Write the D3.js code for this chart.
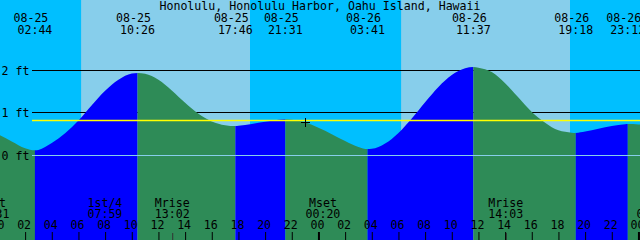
<!DOCTYPE html>
<html>
<head>
<meta charset="utf-8">
<script src="https://cdn.jsdelivr.net/npm/d3@7"></script>
<style>
  html, body { margin: 0; padding: 0; overflow: hidden; background: #00bfff; }
  svg { display: block; }
  text { font-family: 'DejaVu Sans Mono', monospace; font-size: 11.6px; fill: #000; }
</style>
</head>
<body>
<script>
const title = "Honolulu, Honolulu Harbor, Oahu Island, Hawaii";

// time window shown (48 h)
const xDomain = ["08-25 00:07", "08-27 00:07"];

// tide extremes
const tideTimes = ["08-25 02:44", "08-25 10:26", "08-25 17:46", "08-25 21:31",
                   "08-26 03:41", "08-26 11:37", "08-26 19:18", "08-26 23:12"];
const tideKinds = ["low", "high", "low", "high", "low", "high", "low", "high"];
const tideHeights = [0.12, 1.94, 0.69, 0.85, 0.15, 2.08, 0.53, 0.74];

// hourly water level, from 08-25 00:00
const hourlyStart = "08-25 00:00";
const hourlyHeights = [
  0.49, 0.33, 0.17, 0.13, 0.29, 0.52, 0.82, 1.18, 1.52, 1.78, 1.925, 1.92,
  1.78, 1.53, 1.24, 0.98, 0.80, 0.71, 0.695, 0.74, 0.79, 0.84, 0.84, 0.78,
  0.65, 0.50, 0.34, 0.20, 0.155, 0.28, 0.53, 0.87, 1.25, 1.61, 1.89, 2.05,
  2.06, 1.96, 1.70, 1.36, 1.02, 0.77, 0.59, 0.535, 0.56, 0.63, 0.69, 0.735,
  0.73, 0.69
];

// daylight
const sunrises = ["08-25 06:12", "08-26 06:12"];
const sunsets = ["08-25 18:52", "08-26 18:52"];

// moon events
const moonLabels = ["Mset", "1st/4", "Mrise", "Mset", "Mrise", "Mset"];
const moonTimes = ["08-24 23:31", "08-25 07:59", "08-25 13:02", "08-26 00:20", "08-26 14:03", "08-27 01:10"];

const levelTicks = [0, 1, 2];
const meanLevel = 0.82;
const markTime = "08-25 23:00";
const markHeight = 0.78;

const colors = {
    night: "#00bfff",
    day: "#87ceeb",
    rising: "#0000ff",
    falling: "#2e8b57",
    datum: "#87ceeb",
    mean: "#ffff00"
};

const width = 640;
const height = 240;

const parse = d3.utcParse("%m-%d %H:%M");
const fmtDate = d3.utcFormat("%m-%d");
const fmtTime = d3.utcFormat("%H:%M");

const x = d3.scaleUtc()
    .domain(xDomain.map(parse))
    .range([0, width]);

const y = d3.scaleLinear()
    .domain([0, 2])
    .range([155.4, 70.4]);

const rowY = v => Math.floor(y(v)) + 0.5;

const svg = d3.select("body")
    .append("svg")
    .attr("width", width)
    .attr("height", height);

// sky
svg.append("rect")
    .attr("width", width)
    .attr("height", height)
    .attr("fill", colors.night);

svg.selectAll("rect.day")
    .data(sunrises)
    .enter()
    .append("rect")
    .attr("class", "day")
    .attr("x", (d, i) => x(parse(d)))
    .attr("y", 0)
    .attr("width", (d, i) => x(parse(sunsets[i])) - x(parse(d)))
    .attr("height", height)
    .attr("fill", colors.day);

// level lines behind the water
const lineLeft = 32;
svg.selectAll("line.level")
    .data(levelTicks.filter(v => v > 0))
    .enter()
    .append("line")
    .attr("class", "level")
    .attr("x1", lineLeft)
    .attr("x2", width)
    .attr("y1", d => rowY(d))
    .attr("y2", d => rowY(d))
    .attr("stroke", "#000")
    .attr("stroke-width", 1);

// water
const hour0 = parse(hourlyStart);
let points = hourlyHeights.map((h, i) => ({ t: d3.utcHour.offset(hour0, i), h: h }));
tideTimes.forEach((d, i) => points.push({ t: parse(d), h: tideHeights[i] }));
points.sort((a, b) => a.t - b.t);

const area = d3.area()
    .x(d => x(d.t))
    .y0(height)
    .y1(d => y(d.h))
    .curve(d3.curveMonotoneX);

const bounds = [-20].concat(tideTimes.map(d => x(parse(d))), [width + 20]);
const kinds = tideKinds.map(k => k === "low" ? "falling" : "rising");
kinds.push(tideKinds[tideKinds.length - 1] === "high" ? "falling" : "rising");

const defs = svg.append("defs");
kinds.forEach((k, i) => {
    defs.append("clipPath")
        .attr("id", "clip-" + i)
        .append("rect")
        .attr("x", bounds[i])
        .attr("y", 0)
        .attr("width", bounds[i + 1] - bounds[i])
        .attr("height", height);
    svg.append("path")
        .attr("d", area(points))
        .attr("fill", colors[k])
        .attr("clip-path", `url(#clip-${i})`);
});

// datum and mean level over the water
svg.append("line")
    .attr("x1", lineLeft)
    .attr("x2", width)
    .attr("y1", rowY(0))
    .attr("y2", rowY(0))
    .attr("stroke", colors.datum);

svg.append("line")
    .attr("x1", lineLeft)
    .attr("x2", width)
    .attr("y1", rowY(meanLevel))
    .attr("y2", rowY(meanLevel))
    .attr("stroke", colors.mean)
    .attr("stroke-width", 1.3);

// current-time mark
const mx = Math.round(x(parse(markTime))) + 0.5;
const my = Math.round(y(markHeight)) + 0.5;
svg.append("path")
    .attr("d", `M${mx - 4.5},${my}H${mx + 4.5}M${mx},${my - 4.5}V${my + 4.5}`)
    .attr("stroke", "#000")
    .attr("fill", "none");

// level labels
svg.selectAll("text.level")
    .data(levelTicks)
    .enter()
    .append("text")
    .attr("class", "level")
    .attr("x", 1.5)
    .attr("y", d => rowY(d) + 4)
    .text(d => `${d} ft`);

// title
svg.append("text")
    .attr("x", width / 2)
    .attr("y", 10)
    .attr("text-anchor", "middle")
    .text(title);

// tide extreme labels
const tideLabel = svg.selectAll("g.tide")
    .data(tideTimes.map(parse))
    .enter()
    .append("g")
    .attr("class", "tide")
    .attr("transform", d => `translate(${x(d)},0)`);

tideLabel.append("text")
    .attr("x", -4)
    .attr("y", 22)
    .attr("text-anchor", "middle")
    .text(d => fmtDate(d));

tideLabel.append("text")
    .attr("x", 0)
    .attr("y", 33.5)
    .attr("text-anchor", "middle")
    .text(d => fmtTime(d));

// moon labels
const moonLabel = svg.selectAll("g.moon")
    .data(moonTimes.map((d, i) => ({ t: parse(d), name: moonLabels[i] })))
    .enter()
    .append("g")
    .attr("class", "moon")
    .attr("transform", d => `translate(${x(d.t)},0)`);

moonLabel.append("text")
    .attr("y", 206.5)
    .attr("text-anchor", "middle")
    .text(d => d.name);

moonLabel.append("text")
    .attr("y", 217.5)
    .attr("text-anchor", "middle")
    .text(d => fmtTime(d.t));

moonLabel.filter(d => d.name === "Mrise")
    .append("line")
    .attr("x1", 0.5)
    .attr("x2", 0.5)
    .attr("y1", 233)
    .attr("y2", height)
    .attr("stroke", "#333");

// hour axis
const hourTicks = d3.utcHour.range(parse("08-25 00:00"), parse("08-27 00:01"), 2);
const axis = svg.append("g")
    .attr("transform", `translate(0,${height})`)
    .call(d3.axisTop(x)
        .tickValues(hourTicks)
        .tickSize(8)
        .tickPadding(2.7)
        .tickFormat(d3.utcFormat("%H")));

axis.select(".domain").remove();
axis.attr("font-family", null).attr("font-size", null).attr("color", "#000");
axis.selectAll(".tick text").attr("dx", -1.5);
axis.selectAll(".tick line")
    .attr("stroke-width", d => d.getUTCHours() === 0 ? 2 : 1);
</script>
</body>
</html>
